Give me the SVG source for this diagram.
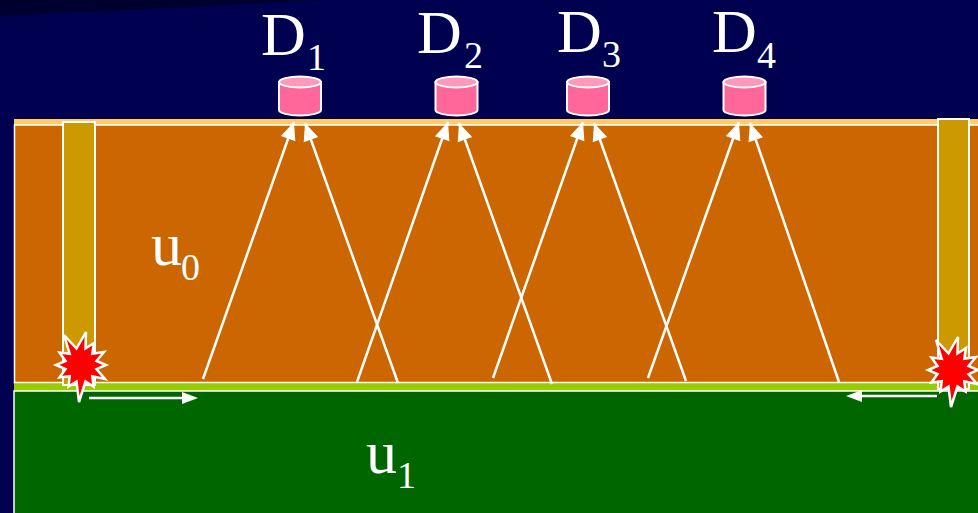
<svg xmlns="http://www.w3.org/2000/svg" width="978" height="513" viewBox="0 0 978 513">
  <style>
    .big { font-size: 62px; }
    .sub { font-size: 38px; }
    .ray { stroke: #ffffff; stroke-width: 2.5; fill: none; marker-end: url(#tip); }
    .well { fill: #cc9900; stroke: #ffffff; stroke-width: 2; }
    .blast { fill: #ff0000; stroke: #ffffff; stroke-width: 2.5; stroke-linejoin: miter; }
    .can { fill: #ff6699; stroke: #ffffff; stroke-width: 2; }
    .cantop { fill: #ff99bb; stroke: #ffffff; stroke-width: 2; }
  </style>
  <defs>
    <marker id="tip" markerUnits="userSpaceOnUse" markerWidth="20" markerHeight="20" viewBox="-16 -8 17 16" refX="0" refY="0" orient="auto">
      <path d="M0,0 L-15,-6.5 L-15,6.5 Z" fill="#ffffff"/>
    </marker>
    <!-- twelve-point burst, irregular spikes -->
    <polygon id="star" points="5,-33 4.5,-16.5 13,-22 11.3,-11.3 23,-13 15.5,-4.1 25,0 15.5,4.1 24,14 11.3,11.3 12.5,21.5 4.5,16.5 -2,37 -4.5,16.5 -12.5,21.5 -11.3,11.3 -21.5,12.5 -15.5,4.1 -25,0 -15.5,-4.1 -21.5,-12.5 -11.3,-11.3 -17,-30 -4.5,-16.5"/>
    <g id="drum">
      <path class="can" d="M-21,0 L-21,28 A21,5.5 0 0 0 21,28 L21,0 Z"/>
      <ellipse class="cantop" cx="0" cy="0" rx="21" ry="5.5"/>
    </g>
  </defs>

  <!-- sky / background -->
  <rect x="0" y="0" width="978" height="513" fill="#000050"/>
  <polygon points="0,0 330,0 0,16" fill="#00002e"/>

  <!-- upper layer u0 -->
  <g id="layer-u0">
    <rect x="14" y="119" width="964" height="6" fill="#ffcc66"/>
    <rect x="14.5" y="125" width="970" height="258" fill="#cc6600" stroke="#ffffff" stroke-width="1.5"/>
  </g>

  <!-- interface and lower layer u1 -->
  <g id="layer-u1">
    <rect x="14" y="383" width="964" height="8" fill="#99cc00"/>
    <line x1="14" y1="382.5" x2="978" y2="382.5" stroke="#ffffff" stroke-width="1.5"/>
    <rect x="14" y="391" width="970" height="130" fill="#006600" stroke="#ffffff" stroke-width="1.5"/>
  </g>

  <!-- boreholes -->
  <g id="well-left">
    <rect class="well" x="63" y="122" width="32" height="263"/>
  </g>
  <g id="well-right">
    <rect class="well" x="938" y="119" width="31" height="270"/>
  </g>

  <!-- receivers -->
  <g id="D1"><use href="#drum" x="300" y="82"/></g>
  <g id="D2"><use href="#drum" x="456.5" y="82"/></g>
  <g id="D3"><use href="#drum" x="588" y="82"/></g>
  <g id="D4"><use href="#drum" x="744.5" y="82"/></g>

  <!-- ray paths -->
  <g id="connectors">
    <line class="ray" x1="203" y1="379" x2="294" y2="122"/>
    <line class="ray" x1="398" y1="383" x2="305" y2="123"/>
    <line class="ray" x1="357" y1="382" x2="448" y2="122"/>
    <line class="ray" x1="552" y1="384" x2="459" y2="123"/>
    <line class="ray" x1="493" y1="378" x2="583" y2="122"/>
    <line class="ray" x1="686" y1="381" x2="594" y2="123"/>
    <line class="ray" x1="648" y1="378" x2="739" y2="122"/>
    <line class="ray" x1="839" y1="382" x2="750" y2="123"/>
    <!-- head-wave direction arrows -->
    <line x1="89" y1="398" x2="184" y2="398" stroke="#ffffff" stroke-width="2.5"/>
    <polygon points="182,392 198,398 182,404" fill="#ffffff"/>
    <line x1="937" y1="396" x2="860" y2="396" stroke="#ffffff" stroke-width="2.5"/>
    <polygon points="862,390 846,396 862,402" fill="#ffffff"/>
  </g>

  <!-- sources -->
  <g id="shot-left"><use href="#star" class="blast" x="81" y="365"/></g>
  <g id="shot-right"><use href="#star" class="blast" x="953" y="370"/></g>

  <!-- labels -->
  <g id="labels" font-family="'Liberation Serif', 'Times New Roman', serif" fill="#ffffff">
    <text class="big" x="261" y="55">D</text><text class="sub" x="307" y="70">1</text>
    <text class="big" x="417" y="53">D</text><text class="sub" x="464" y="68">2</text>
    <text class="big" x="557" y="52">D</text><text class="sub" x="602" y="67">3</text>
    <text class="big" x="712" y="52">D</text><text class="sub" x="757" y="68">4</text>
    <text class="big" x="151" y="265">u</text><text class="sub" x="181" y="280">0</text>
    <text class="big" x="366" y="473">u</text><text class="sub" x="397" y="488">1</text>
  </g>
</svg>
